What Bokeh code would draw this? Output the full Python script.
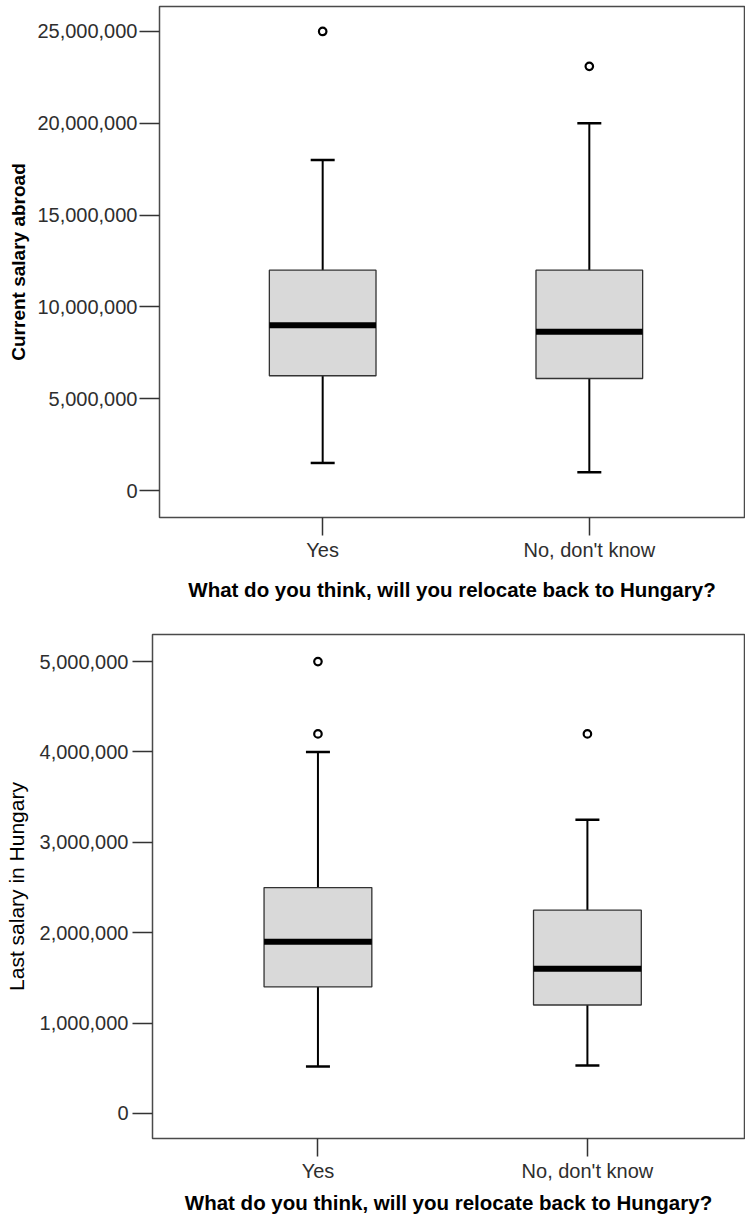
from bokeh.plotting import figure
from bokeh.models import Range1d, FixedTicker, NumeralTickFormatter
from bokeh.layouts import column
from bokeh.embed import file_html
from bokeh.resources import INLINE

# ---------------- data ----------------
categories = ["Yes", "No, don't know"]
x_title = "What do you think, will you relocate back to Hungary?"

# Current salary abroad
abroad_min = [1_500_000, 1_000_000]
abroad_q1 = [6_250_000, 6_100_000]
abroad_median = [9_000_000, 8_650_000]
abroad_q3 = [12_000_000, 12_000_000]
abroad_max = [18_000_000, 20_000_000]
abroad_outlier_cat = ["Yes", "No, don't know"]
abroad_outlier_val = [25_000_000, 23_100_000]
abroad_ticks = [0, 5_000_000, 10_000_000, 15_000_000, 20_000_000, 25_000_000]

# Last salary in Hungary
hungary_min = [520_000, 530_000]
hungary_q1 = [1_400_000, 1_200_000]
hungary_median = [1_900_000, 1_600_000]
hungary_q3 = [2_500_000, 2_250_000]
hungary_max = [4_000_000, 3_250_000]
hungary_outlier_cat = ["Yes", "Yes", "No, don't know"]
hungary_outlier_val = [5_000_000, 4_200_000, 4_200_000]
hungary_ticks = [0, 1_000_000, 2_000_000, 3_000_000, 4_000_000, 5_000_000]

FONT = "Liberation Sans"


def boxplot(ylabel, ylabel_style, ylabel_size, lo, q1, med, q3, hi, out_cat, out_val,
            ticks, x_range, y_range, height, border_left, border_top, border_bottom,
            label_standoff, title_standoff, x_title_standoff):
    xs = [i + 1 for i in range(len(categories))]
    pos = {c: i + 1 for i, c in enumerate(categories)}
    p = figure(width=745, height=height, output_backend="svg", toolbar_location=None,
               x_range=Range1d(*x_range), y_range=Range1d(*y_range),
               min_border_left=border_left, min_border_right=1,
               min_border_top=border_top, min_border_bottom=border_bottom)
    p.background_fill_color = "white"
    p.border_fill_color = "white"
    p.outline_line_color = "#4a4a4a"
    p.outline_line_width = 1.5
    p.grid.visible = False

    # whiskers
    p.segment(x0=xs, y0=q3, x1=xs, y1=hi, line_color="black", line_width=2)
    p.segment(x0=xs, y0=q1, x1=xs, y1=lo, line_color="black", line_width=2)
    # caps
    p.scatter(x=xs, y=hi, marker="dash", size=24, line_color="black", line_width=2.5)
    p.scatter(x=xs, y=lo, marker="dash", size=24, line_color="black", line_width=2.5)
    # boxes
    p.vbar(x=xs, width=0.4, bottom=q1, top=q3, fill_color="#d9d9d9",
           line_color="#333333", line_width=1.3)
    # medians
    p.rect(x=xs, y=med, width=0.4, height=6, height_units="screen",
           fill_color="black", line_color=None)
    # outliers
    p.scatter(x=[pos[c] for c in out_cat], y=out_val, marker="circle", size=7.5,
              fill_color="white", line_color="black", line_width=2.2)

    # axes
    for ax in (p.xaxis[0], p.yaxis[0]):
        ax.axis_line_color = None
        ax.minor_tick_line_color = None
        ax.major_tick_in = 0
        ax.major_tick_line_color = "#333333"
        ax.major_tick_line_width = 1.5
        ax.major_label_text_font = FONT
        ax.major_label_text_font_size = "20px"
        ax.major_label_text_color = "#2e2e2e"
        ax.axis_label_text_font = FONT
        ax.axis_label_text_color = "black"

    xa = p.xaxis[0]
    xa.ticker = FixedTicker(ticks=xs)
    xa.major_label_overrides = {x: c for x, c in zip(xs, categories)}
    xa.major_tick_out = 18
    xa.major_label_standoff = 3
    xa.axis_label = x_title
    xa.axis_label_text_font_style = "bold"
    xa.axis_label_text_font_size = "20.5px"
    xa.axis_label_standoff = x_title_standoff

    ya = p.yaxis[0]
    ya.ticker = FixedTicker(ticks=ticks)
    ya.formatter = NumeralTickFormatter(format="0,0")
    ya.major_tick_out = 20
    ya.major_label_standoff = label_standoff
    ya.axis_label = ylabel
    ya.axis_label_text_font_style = ylabel_style
    ya.axis_label_text_font_size = ylabel_size
    ya.axis_label_standoff = title_standoff
    return p


p1 = boxplot("Current salary abroad", "bold", "19px",
             abroad_min, abroad_q1, abroad_median, abroad_q3, abroad_max,
             abroad_outlier_cat, abroad_outlier_val, abroad_ticks,
             (0.388, 2.582), (-1_470_000, 26_360_000), 612, 159, 6, 95, 2, 5, 14)
p2 = boxplot("Last salary in Hungary", "normal", "21px",
             hungary_min, hungary_q1, hungary_median, hungary_q3, hungary_max,
             hungary_outlier_cat, hungary_outlier_val, hungary_ticks,
             (0.386, 2.583), (-277_000, 5_300_000), 611, 152, 22, 85, 4, 9, 6)

layout = column(column(p1), column(p2), spacing=0)
open("out.html", "w").write(file_html(layout, INLINE))
